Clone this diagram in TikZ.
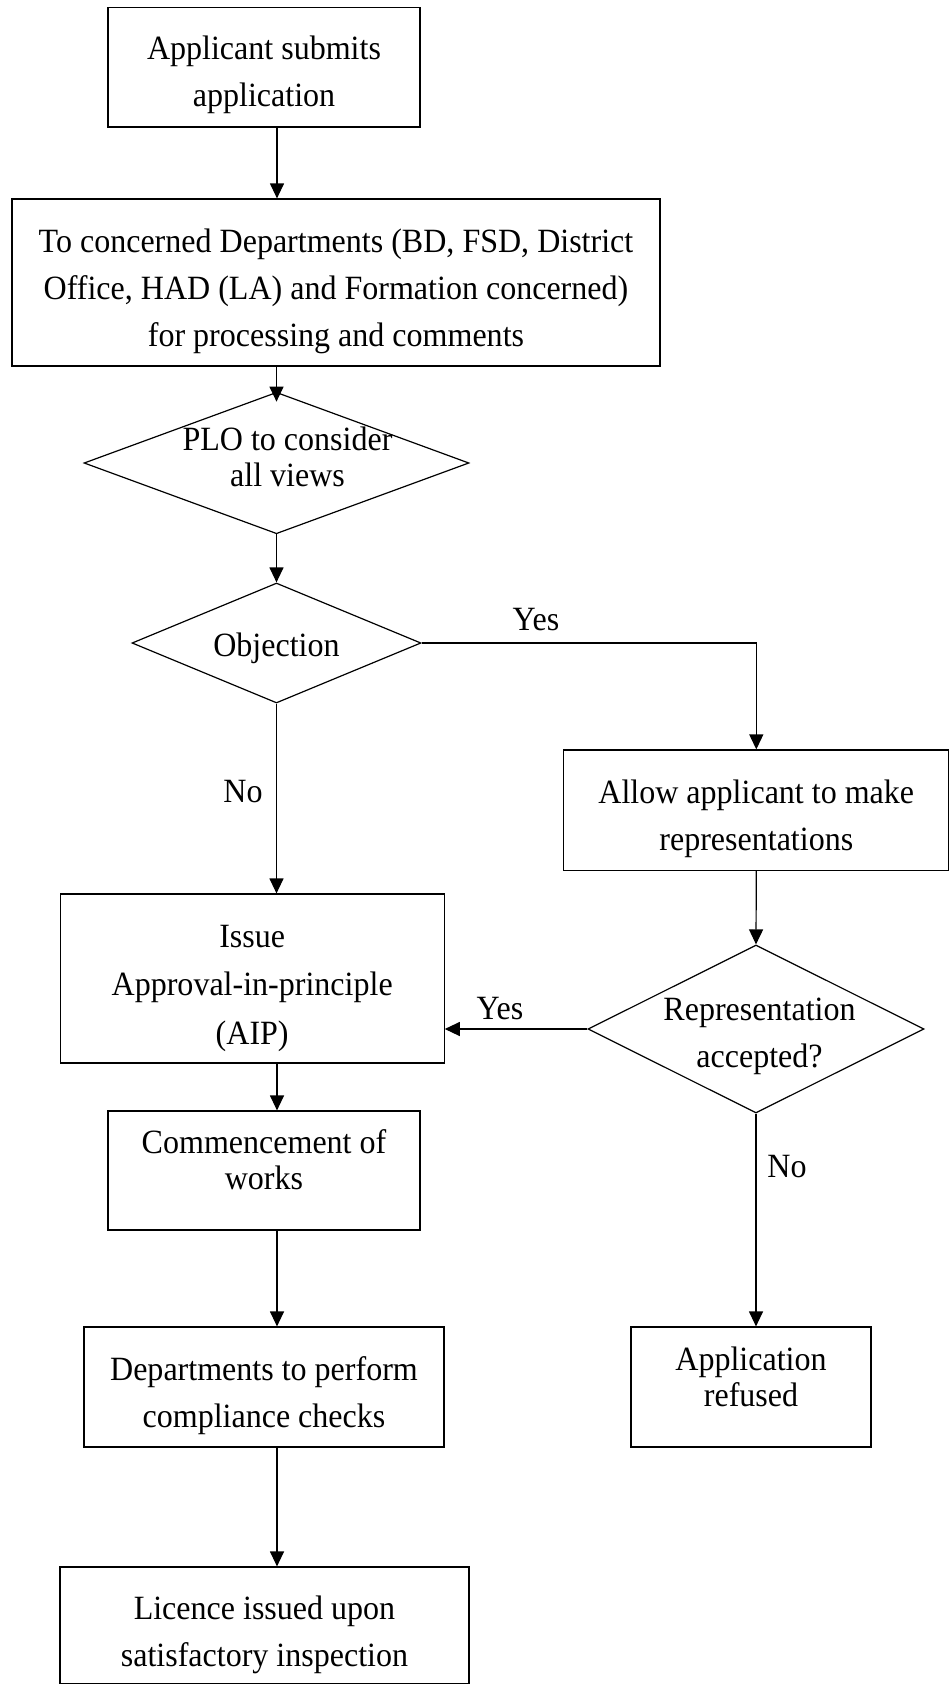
\documentclass[tikz,border=0pt]{standalone}
\usepackage{fontspec}
\setmainfont[FakeStretch=0.942]{Liberation Serif}
\usetikzlibrary{arrows.meta,shapes.geometric}
% #1 = twice the horizontal shift, #2 = raise of first baseline above node centre, #3 = row spacing, #4 = lines
\newcommand\tx[4]{\makebox[0pt]{\hspace{#1}\smash{\raisebox{#2}{\fontsize{34}{#3}\selectfont\begin{tabular}[t]{@{}c@{}}#4\end{tabular}}}}}
\begin{document}
\begin{tikzpicture}[x=1pt,y=-1pt,
  every node/.style={font=\fontsize{34}{47}\selectfont},
  box/.style={draw,line width=1.2pt,rectangle,inner sep=0pt},
  dia/.style={draw,line width=1.2pt,diamond,inner sep=0pt},
  flow/.style={line width=1.2pt,-{Triangle[length=15pt,width=14pt]}},
  lbl/.style={inner sep=0pt}]
\useasboundingbox (0,0) rectangle (949,1684);
\coordinate (col) at (277,0);
\node[box,minimum width=312,minimum height=119.5] (app) at (264,67.25) {\tx{0pt}{8pt}{47.5pt}{Applicant submits\\application}};
\node[box,minimum width=648,minimum height=167] (dept) at (336,282.5) {\tx{0pt}{30pt}{47pt}{To concerned Departments (BD, FSD, District\\Office, HAD (LA) and Formation concerned)\\for processing and comments}};
\node[dia,minimum width=385,minimum height=141.5] (plo) at (276.5,463) {\tx{22pt}{12.3pt}{36pt}{PLO to consider\\all views}};
\node[dia,minimum width=289,minimum height=120] (obj) at (276.5,643) {\tx{0pt}{-13pt}{47pt}{Objection}};
\node[box,minimum width=385,minimum height=120.6] (allow) at (756.3,810.3) {\tx{0pt}{7pt}{47pt}{Allow applicant to make\\representations}};
\node[dia,minimum width=336,minimum height=168] (rep) at (756,1029) {\tx{7pt}{9pt}{47pt}{Representation\\accepted?}};
\node[box,minimum width=384,minimum height=169] (issue) at (252.2,978.5) {\tx{0pt}{31.5pt}{48.5pt}{Issue\\Approval-in-principle\\(AIP)}};
\node[box,minimum width=312,minimum height=119] (comm) at (264,1170.5) {\tx{0pt}{17pt}{36pt}{Commencement of\\works}};
\node[box,minimum width=360,minimum height=120] (chk) at (264,1387) {\tx{0pt}{7pt}{47pt}{Departments to perform\\compliance checks}};
\node[box,minimum width=240,minimum height=120] (ref) at (751,1387) {\tx{0pt}{17pt}{36pt}{Application\\refused}};
\node[box,minimum width=409,minimum height=117] (lic) at (264.5,1625.5) {\tx{0pt}{6.5pt}{47.5pt}{Licence issued upon\\satisfactory inspection}};
\draw[flow] (app.south -| col) -- (dept.north -| col);
\draw[flow] (dept.south -| plo.north) -- ([yshift=-10pt]plo.north);
\draw[flow] (plo.south) -- (obj.north);
\draw[flow] (obj.south) -- (issue.north -| obj.south);
\node[lbl] (no1) at (243,792) {No};
\draw[flow] (obj.east) -- (obj.east -| allow.north) -- (allow.north);
\node[lbl] (yes1) at (536,620) {Yes};
\draw[flow] (allow.south) -- (rep.north);
\draw[flow] (rep.west) -- (rep.west -| issue.east);
\node[lbl] (yes2) at (500,1009) {Yes};
\draw[flow] (issue.south -| col) -- (comm.north -| col);
\draw[flow] (comm.south -| col) -- (chk.north -| col);
\draw[flow] (chk.south -| col) -- (lic.north -| col);
\draw[flow] (rep.south) -- (rep.south |- ref.north);
\node[lbl] (no2) at (787,1167) {No};
\end{tikzpicture}
\end{document}
